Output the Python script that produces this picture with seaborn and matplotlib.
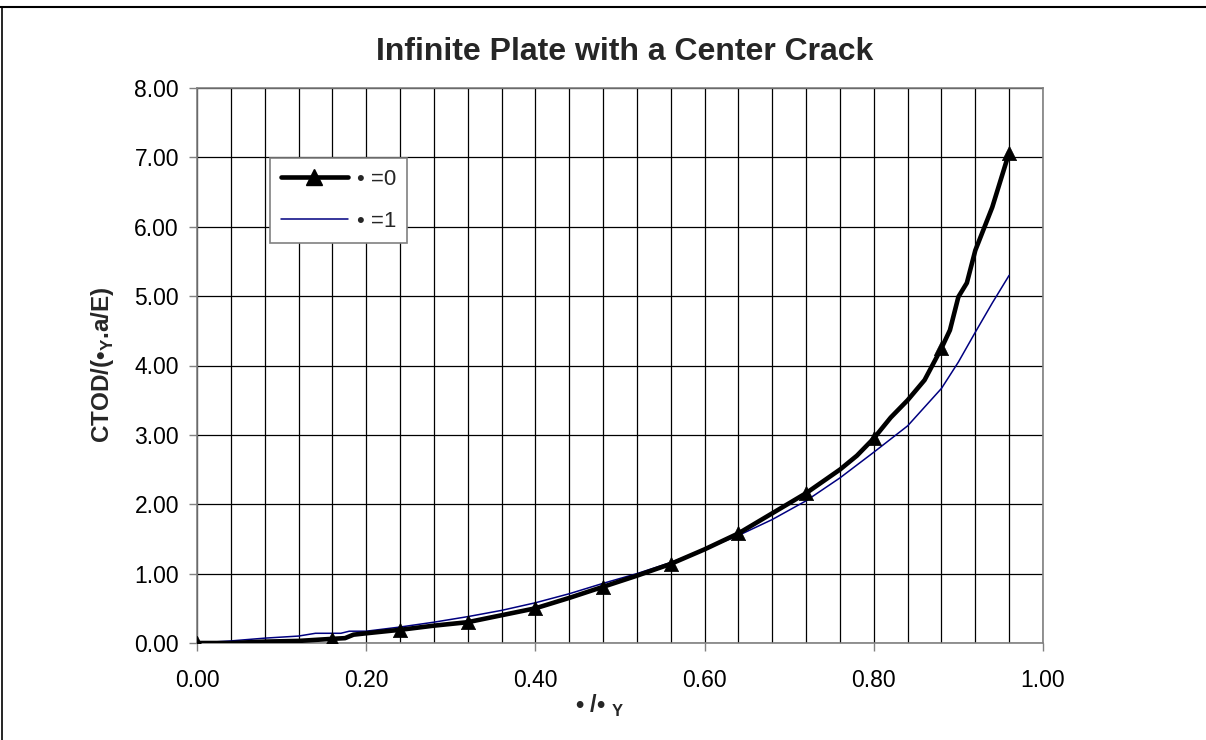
import numpy as np
import pandas as pd
import matplotlib
matplotlib.use("Agg")
import matplotlib.pyplot as plt
from matplotlib.lines import Line2D
from matplotlib.ticker import MultipleLocator, FormatStrFormatter
import seaborn as sns

# CTOD curves for the centre-cracked infinite plate
x_a0 = [0.00, 0.04, 0.08, 0.12, 0.16, 0.175, 0.185, 0.20, 0.24, 0.28, 0.32, 0.36,
        0.40, 0.44, 0.48, 0.52, 0.56, 0.60, 0.64, 0.68, 0.72, 0.76, 0.78, 0.80,
        0.82, 0.84, 0.86, 0.88, 0.89, 0.90, 0.91, 0.92, 0.94, 0.96]
y_a0 = [0.00, 0.00, 0.02, 0.03, 0.06, 0.07, 0.12, 0.14, 0.19, 0.25, 0.30, 0.40,
        0.50, 0.65, 0.81, 0.97, 1.14, 1.35, 1.58, 1.87, 2.16, 2.50, 2.70, 2.95,
        3.25, 3.50, 3.79, 4.25, 4.51, 4.99, 5.19, 5.66, 6.28, 7.07]

x_a1 = [0.00, 0.04, 0.08, 0.12, 0.14, 0.17, 0.18, 0.20, 0.24, 0.28, 0.32, 0.36,
        0.40, 0.44, 0.48, 0.52, 0.56, 0.60, 0.64, 0.68, 0.72, 0.76, 0.80, 0.84,
        0.86, 0.88, 0.90, 0.92, 0.94, 0.96]
y_a1 = [0.00, 0.03, 0.07, 0.10, 0.14, 0.14, 0.17, 0.17, 0.23, 0.30, 0.38, 0.47,
        0.58, 0.71, 0.86, 1.00, 1.16, 1.35, 1.55, 1.78, 2.05, 2.38, 2.75, 3.13,
        3.40, 3.67, 4.05, 4.48, 4.90, 5.30]

# stations that carry a triangle marker on the alpha=0 curve
marker_x = [0.00, 0.16, 0.24, 0.32, 0.40, 0.48, 0.56, 0.64, 0.72, 0.80, 0.88, 0.96]

legend_labels = ["\u2022 =0", "\u2022 =1"]
title_text = "Infinite Plate with a Center Crack"
x_label = "\u2022 /\u2022 $_{\\mathbf{Y}}$"
y_label = "CTOD/(\u2022$_{\\mathbf{Y}}$.a/E)"

sns.set_theme(style="white")
plt.rcParams["font.family"] = ["Liberation Sans", "DejaVu Sans"]
plt.rcParams["mathtext.fontset"] = "custom"
plt.rcParams["mathtext.rm"] = "Liberation Sans"
plt.rcParams["mathtext.bf"] = "Liberation Sans:bold"

df0 = pd.DataFrame({"x": x_a0, "y": y_a0})
df1 = pd.DataFrame({"x": x_a1, "y": y_a1})
idx = [int(np.argmin(np.abs(np.array(x_a0) - m))) for m in marker_x]
dfm = df0.iloc[idx]

W, H = 1206, 740
fig = plt.figure(figsize=(W / 100, H / 100), dpi=100)
ax = fig.add_axes([197 / W, 1 - 643 / H, (1043 - 197) / W, (643 - 88) / H])

sns.lineplot(data=df1, x="x", y="y", ax=ax, color="#000080", lw=1.1,
             sort=False, estimator=None, zorder=3)
sns.lineplot(data=df0, x="x", y="y", ax=ax, color="black", lw=3.3,
             sort=False, estimator=None, zorder=4)
sns.scatterplot(data=dfm, x="x", y="y", ax=ax, marker="^", s=105,
                color="black", edgecolor="black", linewidth=0.5, zorder=5)

ax.set_xlim(0, 1.0)
ax.set_ylim(0, 8.0)
ax.xaxis.set_major_locator(MultipleLocator(0.2))
ax.xaxis.set_minor_locator(MultipleLocator(0.04))
ax.yaxis.set_major_locator(MultipleLocator(1.0))
ax.xaxis.set_major_formatter(FormatStrFormatter("%.2f"))
ax.yaxis.set_major_formatter(FormatStrFormatter("%.2f"))
ax.grid(True, which="both", axis="x", color="black", lw=0.9)
ax.grid(True, which="major", axis="y", color="black", lw=0.9)
ax.set_axisbelow(True)
for s in ax.spines.values():
    s.set_color("#808080")
    s.set_linewidth(1.2)
ax.tick_params(axis="both", which="major", direction="out", length=6,
               width=1, color="#808080", labelsize=16.5, labelcolor="black",
               bottom=True, left=True)
ax.tick_params(axis="x", which="major", pad=13)
ax.tick_params(axis="y", which="major", pad=7)
ax.tick_params(axis="x", which="minor", length=0, bottom=False)

ax.set_xlabel(x_label, fontsize=17, fontweight="bold")
ax.set_ylabel(y_label, fontsize=17.5, fontweight="bold")
ax.xaxis.label.set_verticalalignment("center")
ax.yaxis.label.set_verticalalignment("center")
ax.yaxis.label.set_horizontalalignment("center")
ax.xaxis.set_label_coords((600 - 197) / 846, (643 - 706) / 555)
ax.yaxis.set_label_coords((102 - 197) / 846, (643 - 365) / 555)

fig.text(625 / W, 1 - 60 / H, title_text, ha="center", va="baseline",
         fontsize=23, fontweight="bold")

handles = [
    Line2D([], [], color="black", lw=3.3, marker="^", markersize=11),
    Line2D([], [], color="#000080", lw=1.1),
]
leg = ax.legend(handles, legend_labels, loc="upper left",
                bbox_to_anchor=((270 - 197) / 846, (643 - 158) / 555),
                fontsize=16, frameon=True, fancybox=False, shadow=False,
                handlelength=3.0, handletextpad=0.4, borderpad=0.5,
                labelspacing=0.95, borderaxespad=0)
leg.get_frame().set_edgecolor("#808080")
leg.get_frame().set_linewidth(1.2)
leg.get_frame().set_facecolor("white")
leg.get_frame().set_alpha(1.0)

# chart-area frame along the top and left edges
fig.add_artist(Line2D([0, 1], [1 - 7 / H, 1 - 7 / H], transform=fig.transFigure,
                      color="black", lw=1.5))
fig.add_artist(Line2D([1.5 / W, 1.5 / W], [0, 1 - 7 / H],
                      transform=fig.transFigure, color="black", lw=1.2))

fig.savefig("out.png", dpi=100, facecolor="white")
